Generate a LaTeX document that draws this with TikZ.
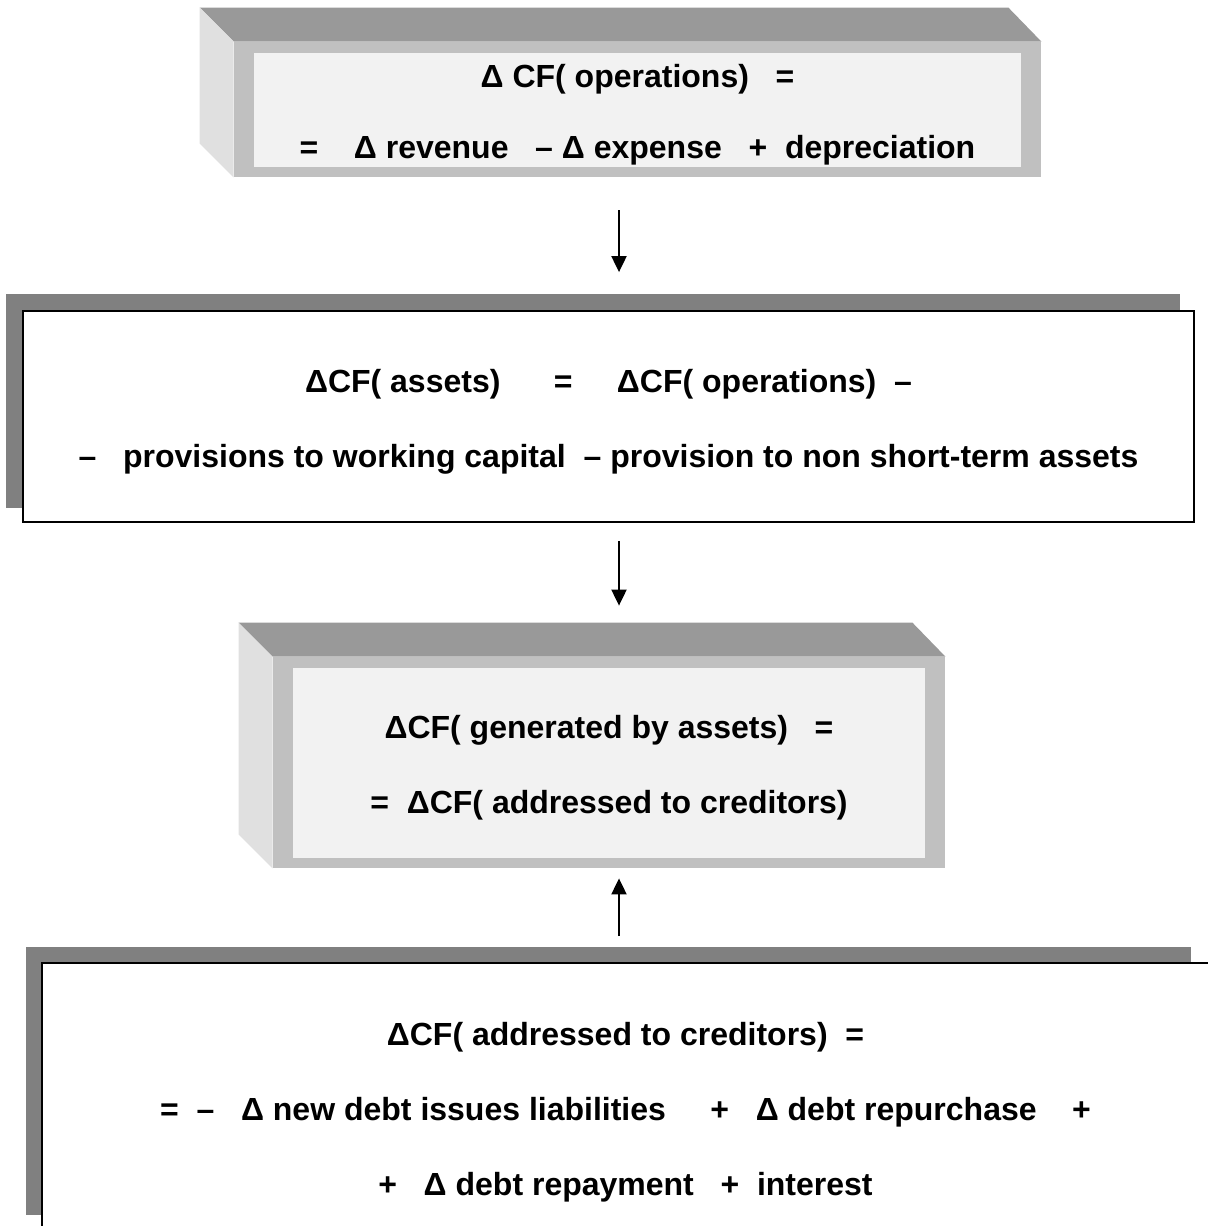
\documentclass[tikz,border=0pt]{standalone}
\usepackage{fontspec}
\setmainfont{Liberation Sans}
\usetikzlibrary{positioning,arrows.meta,calc,backgrounds}
\definecolor{topgray}{HTML}{999999}
\definecolor{sidegray}{HTML}{E0E0E0}
\definecolor{rimgray}{HTML}{C0C0C0}
\definecolor{panelgray}{HTML}{F2F2F2}
\definecolor{shadowgray}{HTML}{808080}
\newcommand{\firstline}{\rule{0pt}{16.7pt}}% pushes the lines a bit lower in the box
\tikzset{
  eqtext/.style={font=\fontsize{16}{37.5}\selectfont\bfseries,align=center,inner sep=0pt},
  flow/.style={-{Triangle[length=8pt,width=7.5pt]},line width=1pt},
  % ---- bevelled slab: grey rim round a light panel ----
  slab/.style={eqtext,fill=rimgray,path picture={
      \fill[panelgray] ([xshift=10pt,yshift=-5.5pt]path picture bounding box.north west)
        rectangle ([xshift=-10pt,yshift=5pt]path picture bounding box.south east);}},
  topface/.style={fill=topgray},
  sideface/.style={fill=sidegray},
  flatbox/.style={eqtext,draw=black,line width=0.9pt,fill=white},
  boxshadow/.style={fill=shadowgray},
}

\begin{document}
\begin{tikzpicture}[x=0.5pt,y=-0.5pt]
  \useasboundingbox (0,0) rectangle (1208,1226);
  \coordinate (axis) at (619,0);
  \node[slab,minimum width=403.5pt,minimum height=67.5pt] (ops) at (637.5,109.5)
    {\firstline Δ CF( operations)~~~=\\[-2pt]
     =~~~~Δ revenue~~~– Δ expense~~~+~~depreciation};
  \node[flatbox,minimum width=585.5pt,minimum height=105.5pt] (assets) at (608.5,416.5)
    {\firstline ΔCF( assets)~~~~~~=~~~~~ΔCF( operations)~~–\\
     –~~~provisions to working capital~~– provision to non short-term assets};
  \node[slab,minimum width=336pt,minimum height=105.5pt] (gen) at (609,762.5)
    {\firstline ΔCF( generated by assets)~~~=\\
     =~~ΔCF( addressed to creditors)};
  \node[flatbox,minimum width=583.5pt,minimum height=144pt] (cred) at (625.5,1107)
    {\firstline ΔCF( addressed to creditors)~~=\\
     =~~–~~~Δ new debt issues liabilities~~~~~+~~~Δ debt repurchase~~~~+\\
     +~~~Δ debt repayment~~~+~~interest};
  % side and top faces, shadows
  \begin{scope}[on background layer]
    \foreach \b in {ops,gen}{
      \fill[topface] (\b.north west) -- ++(-34,-34) -- ($(\b.north east)+(-33,-34)$)
        -- (\b.north east) -- cycle;
      \fill[sideface] (\b.north west) -- ++(-34,-34) -- ($(\b.south west)+(-34,-34)$)
        -- (\b.south west) -- cycle;
    }
    \fill[boxshadow] ($(assets.north west)+(-16,-16)$) rectangle ($(assets.south east)+(-15,-15)$);
    \fill[boxshadow] ($(cred.north west)+(-15,-15)$) rectangle ($(cred.north east)+(-19,253)$);
  \end{scope}
  % connectors
  \draw[flow,shorten <=16.5pt,shorten >=19pt] (ops.south -| axis) -- (assets.north -| axis);
  \draw[flow,shorten <=9pt,shorten >=25.5pt] (assets.south -| axis) -- (gen.north -| axis);
  \draw[flow,shorten <=13pt,shorten >=5pt] (cred.north -| axis) -- (gen.south -| axis);
\end{tikzpicture}
\end{document}
